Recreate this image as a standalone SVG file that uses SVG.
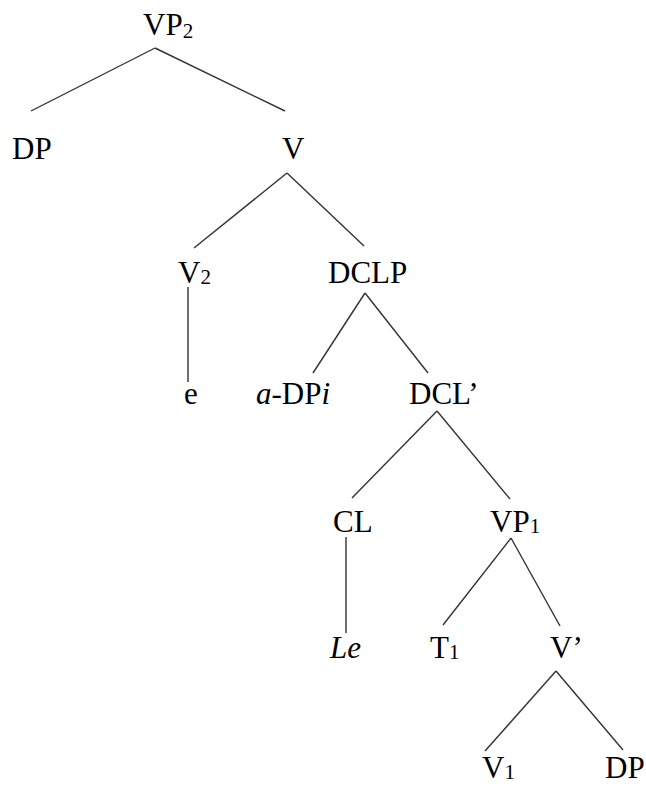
<svg xmlns="http://www.w3.org/2000/svg" width="646" height="786" viewBox="0 0 646 786">
<style>
text{font-family:"Liberation Serif","Times New Roman",serif;font-size:31px;fill:#000}
.sub{font-size:21px}
.it{font-style:italic}
.edge{stroke:#333;stroke-width:1.4;fill:none}
</style>
<rect width="646" height="786" fill="#fff"/>
<g id="connectors">
<line class="edge" x1="155" y1="48" x2="31" y2="111"/>
<line class="edge" x1="155" y1="48" x2="285" y2="111"/>
<line class="edge" x1="287" y1="173" x2="194" y2="248"/>
<line class="edge" x1="287" y1="173" x2="364" y2="246"/>
<line class="edge" x1="188" y1="287" x2="188" y2="382"/>
<line class="edge" x1="365" y1="293" x2="313" y2="373"/>
<line class="edge" x1="365" y1="293" x2="428" y2="373"/>
<line class="edge" x1="437" y1="411" x2="352" y2="498"/>
<line class="edge" x1="437" y1="411" x2="510" y2="499"/>
<line class="edge" x1="346" y1="537" x2="346" y2="633"/>
<line class="edge" x1="511" y1="538" x2="443" y2="625"/>
<line class="edge" x1="511" y1="538" x2="560" y2="626"/>
<line class="edge" x1="556" y1="671" x2="485" y2="751"/>
<line class="edge" x1="556" y1="671" x2="623" y2="750"/>
</g>
<g id="n-vp2"><text x="143" y="35">VP<tspan class="sub" dy="3">2</tspan></text></g>
<g id="n-dp1"><text x="12" y="159">DP</text></g>
<g id="n-v"><text x="282" y="159">V</text></g>
<g id="n-v2"><text x="178" y="283">V<tspan class="sub" dy="1">2</tspan></text></g>
<g id="n-dclp"><text x="328" y="283">DCLP</text></g>
<g id="n-e"><text x="184" y="404">e</text></g>
<g id="n-adpi"><text x="256" y="404"><tspan class="it">a</tspan>-DP<tspan class="it">i</tspan></text></g>
<g id="n-dclbar"><text x="409" y="404">DCL’</text></g>
<g id="n-cl"><text x="333" y="532">CL</text></g>
<g id="n-vp1"><text x="490" y="532">VP<tspan class="sub" dy="1">1</tspan></text></g>
<g id="n-le"><text x="330" y="658" class="it">Le</text></g>
<g id="n-t1"><text x="430" y="658">T<tspan class="sub" dy="1">1</tspan></text></g>
<g id="n-vbar"><text x="550" y="658">V’</text></g>
<g id="n-v1"><text x="482" y="778">V<tspan class="sub" dy="1">1</tspan></text></g>
<g id="n-dp2"><text x="605" y="778">DP</text></g>
</svg>
